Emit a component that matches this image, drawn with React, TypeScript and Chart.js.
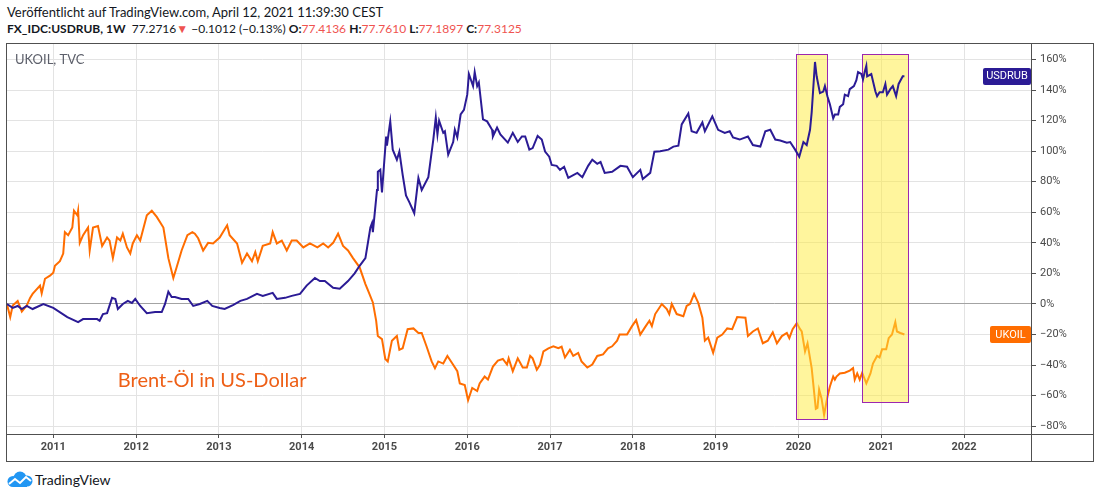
import { useEffect, useRef } from "react";
import { Chart, registerables } from "chart.js";

Chart.register(...registerables);

// ---------- data ----------
const oilDates = [
  2010.44, 2010.48, 2010.51, 2010.57, 2010.62, 2010.68, 2010.72, 2010.75, 2010.84, 2010.86, 2010.9, 2010.96,
  2011.0, 2011.02, 2011.08, 2011.12, 2011.14, 2011.18, 2011.23, 2011.25, 2011.29, 2011.3, 2011.32, 2011.36,
  2011.42, 2011.44, 2011.48, 2011.54, 2011.59, 2011.65, 2011.68, 2011.72, 2011.77, 2011.81, 2011.84, 2011.89,
  2011.93, 2011.96, 2012.01, 2012.05, 2012.13, 2012.19, 2012.25, 2012.33, 2012.39, 2012.45, 2012.49, 2012.55,
  2012.62, 2012.68, 2012.71, 2012.75, 2012.81, 2012.87, 2012.93, 2013.01, 2013.1, 2013.13, 2013.22, 2013.28,
  2013.34, 2013.4, 2013.44, 2013.47, 2013.53, 2013.62, 2013.65, 2013.7, 2013.76, 2013.82, 2013.88, 2013.94,
  2014.02, 2014.1, 2014.19, 2014.26, 2014.32, 2014.38, 2014.44, 2014.5, 2014.56, 2014.62, 2014.7, 2014.77,
  2014.8, 2014.86, 2014.9, 2014.92, 2014.97, 2015.01, 2015.04, 2015.09, 2015.13, 2015.15, 2015.18, 2015.22,
  2015.28, 2015.35, 2015.41, 2015.45, 2015.51, 2015.57, 2015.61, 2015.65, 2015.71, 2015.76, 2015.82, 2015.88,
  2015.91, 2015.97, 2016.01, 2016.06, 2016.12, 2016.15, 2016.21, 2016.25, 2016.31, 2016.37, 2016.43, 2016.48,
  2016.5, 2016.55, 2016.61, 2016.67, 2016.72, 2016.76, 2016.79, 2016.84, 2016.88, 2016.92, 2016.98, 2017.04,
  2017.1, 2017.14, 2017.18, 2017.24, 2017.28, 2017.34, 2017.38, 2017.45, 2017.51, 2017.57, 2017.64, 2017.7,
  2017.75, 2017.81, 2017.84, 2017.93, 2017.99, 2018.04, 2018.09, 2018.15, 2018.2, 2018.23, 2018.27, 2018.35,
  2018.41, 2018.44, 2018.47, 2018.53, 2018.61, 2018.65, 2018.69, 2018.74, 2018.79, 2018.84, 2018.87, 2018.91,
  2018.97, 2019.02, 2019.08, 2019.14, 2019.2, 2019.26, 2019.36, 2019.39, 2019.45, 2019.51, 2019.57, 2019.63,
  2019.69, 2019.74, 2019.8, 2019.86, 2019.89, 2019.93, 2019.98, 2020.02, 2020.04, 2020.08, 2020.11, 2020.16,
  2020.21, 2020.23, 2020.25, 2020.28, 2020.31, 2020.35, 2020.38, 2020.42, 2020.44, 2020.46, 2020.5, 2020.56,
  2020.62, 2020.66, 2020.68, 2020.71, 2020.74, 2020.77, 2020.82, 2020.87, 2020.9, 2020.95, 2020.98, 2021.01,
  2021.06, 2021.09, 2021.13, 2021.17, 2021.19, 2021.23, 2021.28,
];
const oilValues = [
  0, -8.6, -1, 2, -5, -1, 4, 6.6, 12, 7, 16.5, 18.5,
  20.5, 25, 28, 33, 47, 45, 50, 61, 58, 61, 40, 45,
  50, 35, 50, 51, 38, 43.5, 41.5, 30, 43.5, 41.5, 46, 37,
  33, 39.6, 45, 41.5, 58, 61, 57, 50, 30, 17, 24, 35,
  45, 47, 46, 43, 35, 40, 39.6, 43.5, 51.5, 45, 39.6, 27,
  33, 28, 34, 28, 38, 39.6, 47, 39.6, 41.5, 35, 41.5, 41.5,
  37, 39.6, 37, 39.6, 37, 40, 46, 38, 35, 30, 24, 13,
  9, 1, -11, -21, -23, -36, -37.6, -24, -22, -21, -30, -29,
  -16.5, -16, -19, -19, -28, -37.6, -42, -37.6, -39, -34, -39, -44,
  -52, -53, -63, -55, -57, -52, -47.5, -49.5, -41, -37, -36, -39.6,
  -35.6, -44, -35.6, -41.6, -41.6, -34, -35.6, -43, -39.6, -31, -29, -27.7,
  -29, -28, -35, -30, -34, -32, -37.6, -41.6, -39.6, -34, -33, -29,
  -27.7, -24, -20, -20, -14.5, -10.6, -20, -15, -11, -14.5, -6.6, 0,
  -3.3, -6.6, 0, -6.6, -8, -1.3, 0, 6.6, 0.7, -9, -24, -22,
  -32, -22, -20, -16, -16.5, -8.6, -9, -21, -18, -16, -25.7, -24,
  -18.5, -25.7, -21, -19, -22.4, -16.5, -12.5, -16.5, -18, -31, -25.7, -42,
  -68.6, -68, -56, -62, -72.6, -60.7, -54, -47.5, -49.5, -47.5, -45.5, -45,
  -43.6, -42, -49.5, -45.5, -49.5, -45, -52, -45.5, -39, -34, -35, -29.7,
  -29.7, -22.4, -20, -11.9, -18, -19, -20,
];

const rubDates = [
  2010.44, 2010.51, 2010.57, 2010.62, 2010.68, 2010.75, 2010.88, 2011.0, 2011.17, 2011.3, 2011.36, 2011.53,
  2011.56, 2011.6, 2011.65, 2011.71, 2011.75, 2011.78, 2011.84, 2011.9, 2011.95, 2011.99, 2012.05, 2012.13,
  2012.23, 2012.31, 2012.35, 2012.39, 2012.43, 2012.47, 2012.55, 2012.63, 2012.69, 2012.77, 2012.86, 2012.92,
  2013.01, 2013.07, 2013.17, 2013.26, 2013.34, 2013.46, 2013.53, 2013.65, 2013.7, 2013.8, 2013.88, 2013.98,
  2014.06, 2014.16, 2014.22, 2014.28, 2014.38, 2014.46, 2014.56, 2014.64, 2014.7, 2014.77, 2014.83, 2014.85,
  2014.86, 2014.91, 2014.92, 2014.95, 2014.97, 2015.02, 2015.03, 2015.07, 2015.1, 2015.15, 2015.18, 2015.22,
  2015.26, 2015.3, 2015.36, 2015.41, 2015.45, 2015.53, 2015.59, 2015.62, 2015.64, 2015.66, 2015.71, 2015.73,
  2015.77, 2015.83, 2015.85, 2015.88, 2015.92, 2015.96, 2016.0, 2016.02, 2016.07, 2016.09, 2016.12, 2016.14,
  2016.19, 2016.24, 2016.3, 2016.31, 2016.36, 2016.4, 2016.49, 2016.55, 2016.61, 2016.66, 2016.7, 2016.75,
  2016.79, 2016.85, 2016.9, 2016.94, 2016.99, 2017.02, 2017.08, 2017.12, 2017.17, 2017.22, 2017.33, 2017.39,
  2017.46, 2017.51, 2017.57, 2017.61, 2017.66, 2017.75, 2017.85, 2017.93, 2018.0, 2018.09, 2018.12, 2018.21,
  2018.26, 2018.33, 2018.43, 2018.49, 2018.55, 2018.59, 2018.67, 2018.71, 2018.77, 2018.84, 2018.87, 2018.96,
  2019.03, 2019.11, 2019.17, 2019.21, 2019.29, 2019.39, 2019.45, 2019.54, 2019.6, 2019.66, 2019.72, 2019.78,
  2019.86, 2019.9, 2019.96, 2020.01, 2020.06, 2020.1, 2020.14, 2020.16, 2020.2, 2020.22, 2020.26, 2020.3,
  2020.32, 2020.35, 2020.38, 2020.42, 2020.44, 2020.48, 2020.5, 2020.54, 2020.56, 2020.6, 2020.62, 2020.67,
  2020.7, 2020.72, 2020.76, 2020.78, 2020.8, 2020.82, 2020.83, 2020.88, 2020.93, 2020.95, 2020.98, 2021.02,
  2021.05, 2021.07, 2021.11, 2021.14, 2021.18, 2021.21, 2021.26, 2021.28,
];
const rubValues = [
  0, -2.6, -1.3, -3.3, -1.3, -3.3, 0, -2.6, -8.6, -11.9, -9.9, -9.9,
  -11, -6.6, -6, 4, 3.3, -3.3, 0, 2, 0.7, 3.3, -1.3, -6,
  -5.3, -5.3, 0, 8, 4.6, 4.6, 3.3, 3.3, -1.3, 0, 2, -1.3,
  -2.6, -3.3, -0.7, 2, 3.3, 6.6, 5.3, 7.3, 3.3, 4, 5.3, 6.6,
  12, 17, 15, 15, 10.6, 10, 15, 20, 25, 30, 50, 53,
  47, 74.6, 86.5, 87.8, 73, 109.6, 103.6, 119.5, 101, 94.4, 99.7, 84.5,
  71, 66.7, 59.4, 82.5, 74.6, 83, 107.6, 122, 111, 120, 112, 113,
  97.7, 106, 114, 109, 124, 127, 137, 150.5, 142.6, 151.8, 142.6, 145,
  120.8, 119.5, 114, 109.6, 115.5, 111, 105.6, 112, 106, 109.6, 109.6, 101,
  102, 110, 107.6, 99.7, 96.4, 91, 90.4, 87.8, 89.8, 82.5, 85.8, 83,
  90.4, 94.4, 91.7, 93, 85.8, 86.5, 90.4, 89.8, 83, 87.8, 81.8, 85.8,
  99.7, 100, 101, 103, 103.6, 117.5, 124.7, 113, 112, 118.8, 113, 122.8,
  114, 112, 113, 109, 107.6, 109.6, 104, 103, 113, 114, 107.6, 107,
  105.6, 106, 101, 96.4, 106, 104, 114, 125.4, 158.4, 149, 138, 139,
  142.6, 136, 130.7, 121.5, 124, 124, 129, 130.7, 137, 136, 140.6, 142.6,
  146.5, 151.8, 150.5, 147, 151.8, 155.8, 149, 150.5, 139, 136, 138.6, 138.6,
  144, 137, 140.6, 142.6, 136, 144, 149, 149,
];

const yearTicks = [2011, 2012, 2013, 2014, 2015, 2016, 2017, 2018, 2019, 2020, 2021, 2022];
const percentTicks = [-80, -60, -40, -20, 0, 20, 40, 60, 80, 100, 120, 140, 160];

// highlighted zones (drawn boxes), in chart units
const zoneStart = [2019.97, 2020.77];
const zoneEnd = [2020.34, 2021.32];
const zoneTop = [163.4, 163.4];
const zoneBottom = [-75.3, -64.3];

const RUB_COLOR = "#2B1B95";
const OIL_COLOR = "#FF6D00";

const decorPlugin = {
  id: "decor",
  afterDatasetDraw(chart: any, args: any) {
    if (args.index !== 1) return;
    const { ctx, scales } = chart;
    const xs = scales.x;
    const ys = scales.y;
    ctx.save();
    for (let i = 0; i < zoneStart.length; i++) {
      const l = Math.round(xs.getPixelForValue(zoneStart[i]));
      const r = Math.round(xs.getPixelForValue(zoneEnd[i]));
      const t = Math.round(ys.getPixelForValue(zoneTop[i]));
      const b = Math.round(ys.getPixelForValue(zoneBottom[i]));
      ctx.fillStyle = "rgba(255, 235, 59, 0.5)";
      ctx.fillRect(l, t, r - l, b - t);
      ctx.strokeStyle = "#9C27B0";
      ctx.lineWidth = 1;
      ctx.strokeRect(l + 0.5, t + 0.5, r - l, b - t);
    }
    ctx.restore();
  },
  afterDraw(chart: any) {
    const { ctx, chartArea, scales, width, height } = chart;
    const xs = scales.x;
    const ys = scales.y;
    ctx.save();
    // frame
    ctx.strokeStyle = "#505050";
    ctx.lineWidth = 1;
    ctx.strokeRect(0.5, 0.5, width - 1, height - 1);
    ctx.beginPath();
    ctx.moveTo(chartArea.right + 0.5, 0);
    ctx.lineTo(chartArea.right + 0.5, height);
    ctx.moveTo(0, chartArea.bottom + 0.5);
    ctx.lineTo(width, chartArea.bottom + 0.5);
    ctx.stroke();

    // series label in the pane
    ctx.fillStyle = "#5d606b";
    ctx.font = "13px Lato";
    ctx.textBaseline = "middle";
    ctx.textAlign = "left";
    ctx.fillText("UKOIL, TVC", 9, 17);

    // annotation text
    ctx.fillStyle = "#EE5F16";
    ctx.font = "20px Lato";
    ctx.textBaseline = "alphabetic";
    ctx.fillText("Brent-Öl in US-Dollar", xs.getPixelForValue(2011.78), ys.getPixelForValue(-54.5));

    // last value badges
    const badge = (text: string, value: number, w: number, color: string) => {
      const y = ys.getPixelForValue(value);
      const x = chartArea.right - w;
      ctx.fillStyle = color;
      ctx.beginPath();
      (ctx as any).roundRect(x, Math.round(y - 8.5), w, 17, 2);
      ctx.fill();
      ctx.fillStyle = "#ffffff";
      ctx.font = "11px Roboto";
      ctx.textAlign = "center";
      ctx.textBaseline = "middle";
      ctx.fillText(text, x + w / 2, Math.round(y) + 0.5);
    };
    badge("USDRUB", rubValues[rubValues.length - 1], 48, RUB_COLOR);
    badge("UKOIL", oilValues[oilValues.length - 1], 41, OIL_COLOR);
    ctx.restore();
  },
};

function TradingChart() {
  const ref = useRef<HTMLCanvasElement | null>(null);
  useEffect(() => {
    if (!ref.current) return;
    const chart = new Chart(ref.current, {
      type: "line",
      data: {
        datasets: [
          {
            label: "USDRUB",
            data: rubDates.map((x, i) => ({ x, y: rubValues[i] })),
            borderColor: RUB_COLOR,
            borderWidth: 2,
            pointRadius: 0,
            tension: 0,
          },
          {
            label: "UKOIL",
            data: oilDates.map((x, i) => ({ x, y: oilValues[i] })),
            borderColor: OIL_COLOR,
            borderWidth: 2,
            pointRadius: 0,
            tension: 0,
          },
        ],
      },
      options: {
        animation: false,
        responsive: false,
        layout: { padding: 0 },
        plugins: { legend: { display: false }, tooltip: { enabled: false } },
        scales: {
          x: {
            type: "linear",
            min: 2010.429,
            max: 2022.809,
            afterBuildTicks: (s: any) => {
              s.ticks = yearTicks.map((v) => ({ value: v }));
            },
            afterFit: (s: any) => {
              s.height = 28;
              s.paddingLeft = 0;
              s.paddingRight = 0;
            },
            ticks: {
              autoSkip: false,
              maxRotation: 0,
              padding: 3,
              color: "#4a4a4a",
              font: { family: "Roboto", size: 11, weight: "bold" },
              callback: (v: any) => String(v),
            },
            grid: { color: "#e3e3e3", tickColor: "#505050", tickLength: 4, lineWidth: 1 },
            border: { display: false },
          },
          y: {
            type: "linear",
            position: "right",
            min: -85.1,
            max: 170.8,
            afterBuildTicks: (s: any) => {
              s.ticks = percentTicks.map((v) => ({ value: v }));
            },
            afterFit: (s: any) => {
              s.width = 63;
              s.paddingTop = 0;
              s.paddingBottom = 0;
            },
            ticks: {
              padding: 4,
              color: "#4a4a4a",
              font: { family: "Roboto", size: 11 },
              callback: (v: any) => (v < 0 ? "\u2212" + Math.abs(v) : String(v)) + "%",
            },
            grid: {
              color: (c: any) => (c.tick && c.tick.value === 0 ? "#a3a3a3" : "#e3e3e3"),
              tickColor: "#505050",
              tickLength: 5,
              lineWidth: 1,
            },
            border: { display: false },
          },
        },
      } as any,
      plugins: [decorPlugin],
    });
    return () => chart.destroy();
  }, []);
  return (
    <canvas
      ref={ref}
      width={1088}
      height={419}
      style={{ position: "absolute", left: 6, top: 43, width: 1088, height: 419 }}
    />
  );
}

export default function App() {
  const red = { color: "#EF5350" };
  return (
    <div
      style={{
        position: "absolute",
        left: 0,
        top: 0,
        width: 1100,
        height: 498,
        background: "#ffffff",
        overflow: "hidden",
        fontFamily: "Lato, sans-serif",
        color: "#131722",
      }}
    >
      <div style={{ position: "absolute", left: 7, top: 4, fontSize: 13, whiteSpace: "nowrap" }}>
        Veröffentlicht auf TradingView.com, April 12, 2021 11:39:30 CEST
      </div>
      <div style={{ position: "absolute", left: 7, top: 21, fontSize: 12, whiteSpace: "nowrap" }}>
        <b>FX_IDC:USDRUB, 1W</b>&nbsp; 77.2716<span style={red}>▼</span> −0.1012 (−0.13%) <b>O:</b>
        <span style={red}>77.4136</span> <b>H:</b>
        <span style={red}>77.7610</span> <b>L:</b>
        <span style={red}>77.1897</span> <b>C:</b>
        <span style={red}>77.3125</span>
      </div>
      <TradingChart />
      <div style={{ position: "absolute", left: 6, top: 471, display: "flex", alignItems: "center" }}>
        <svg width="27" height="17" viewBox="0 0 27 17">
          <circle cx="7" cy="10.5" r="5.5" fill="#2196F3" />
          <circle cx="14" cy="7" r="6.5" fill="#2196F3" />
          <circle cx="21" cy="10" r="5.5" fill="#2196F3" />
          <rect x="7" y="10" width="14" height="6" fill="#2196F3" />
          <polyline points="3,13 9,8 14,12 20,6 25,10" fill="none" stroke="#ffffff" strokeWidth="2" />
        </svg>
        <span style={{ marginLeft: 2, fontSize: 14, color: "#131722" }}>TradingView</span>
      </div>
    </div>
  );
}
